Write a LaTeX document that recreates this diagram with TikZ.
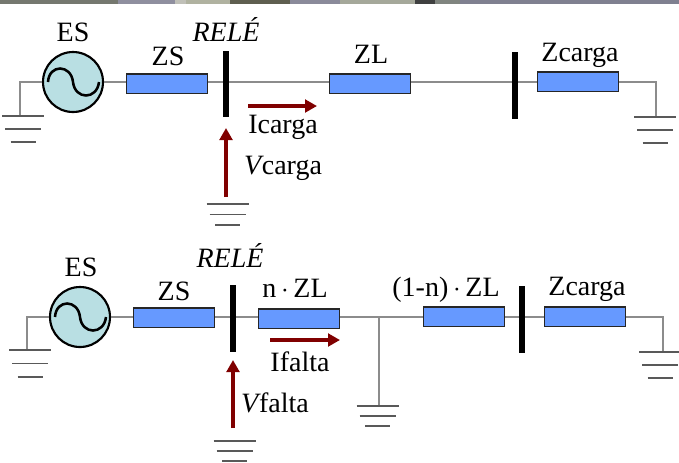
\documentclass[tikz,border=0pt]{standalone}
\usepackage{fontspec}
\setmainfont{Liberation Serif}
\usepackage{tikz}
\usetikzlibrary{arrows.meta}

\definecolor{wirecol}{HTML}{8C8C8C}
\definecolor{boxcol}{HTML}{6699FF}
\definecolor{gencol}{HTML}{B9DFE3}
\definecolor{arrowcol}{HTML}{800000}

\tikzset{
    wire/.style={draw=wirecol, line width=2.2pt},
    imped/.style={draw=black!85, fill=boxcol, line width=1pt, minimum width=61pt, minimum height=14.5pt, inner sep=0pt},
    gen/.style={circle, draw=black, fill=gencol, line width=1.6pt, minimum size=45pt, inner sep=0pt},
    wave/.style={draw=black, line width=1.9pt},
    bar/.style={fill=black, minimum width=4.5pt, minimum height=50pt, inner sep=0pt},
    earthline/.style={draw=black!65, line width=.9pt},
    measure/.style={draw=arrowcol, line width=3pt, -{Triangle[length=9pt, width=9.5pt]}},
    lbl/.style={anchor=base, inner sep=0pt, font=\fontsize{21}{23}\selectfont},
}

\begin{document}
\begin{tikzpicture}[x=.75pt, y=-.75pt]
    \useasboundingbox (0,0) rectangle (679,462);

    % strip left over at the top
    \foreach \a/\b/\c in {0/118/75786F, 118/175/8F8F9F, 175/186/C0C0B8, 186/230/B0B2A0, 230/290/5F5F50, 290/340/8A8A9A, 340/415/A5A89A, 415/435/3F4040, 435/460/80857F, 460/679/7F8090} {
        \definecolor{stripcol}{HTML}{\c}
        \fill[stripcol] (\a,0) rectangle (\b,3.5);
    }

    % first circuit
    \node[gen] (es1) at (73,82) {};
    \draw[wave] (48,82) .. controls (49,64) and (71,64) .. (73,82) .. controls (75,100) and (97,100) .. (99,82);
    \node[imped] (zs1) at (167,83.5) {};
    \node[imped] (zl1) at (370,83.5) {};
    \node[imped] (zc1) at (578,81.5) {};
    \coordinate (g1) at (20,116);
    \coordinate (g2) at (656,117);
    \coordinate (v1) at (226,197);
    \coordinate (v1top) at (226,128);
    \coordinate (i1a) at (248,106);
    \coordinate (i1b) at (317,106);

    \draw[wire] (es1.west) -| (g1);
    \draw[wire] (es1.east) -- (zs1.west |- es1);
    \draw[wire] (zs1.east |- es1) -- (zl1.west |- es1);
    \draw[wire] (zl1.east |- es1) -- (zc1.west |- es1);
    \draw[wire] (zc1.east |- es1) -| (g2);
    \node[bar] (rele1) at (226,84) {};
    \node[bar] (bus1) at (515,85.5) {};
    \draw[measure] (i1a) -- (i1b);
    \draw[measure] (v1) -- (v1top);

    \node[lbl] (es1t) at (73,41) {ES};
    \node[lbl] (zs1t) at (168,65) {ZS};
    \node[lbl] (rele1t) at (226,41) {\textit{RELÉ}};
    \node[lbl] (zl1t) at (371,63) {ZL};
    \node[lbl] (zc1t) at (580,61) {Zcarga};
    \node[lbl] (i1t) at (283,133) {Icarga};
    \node[lbl] (v1t) at (283,174) {\textit{V}\kern-1.5pt carga};

    % second circuit
    \node[gen] (es2) at (80,317) {};
    \draw[wave] (55,317) .. controls (56,299) and (78,299) .. (80,317) .. controls (82,335) and (104,335) .. (106,317);
    \node[imped] (zs2) at (174,317.5) {};
    \node[imped] (zn) at (299,318.5) {};
    \node[imped] (zm) at (464,316.5) {};
    \node[imped] (zc2) at (585,316.5) {};
    \coordinate (falta) at (379,317);
    \coordinate (g4) at (27,350);
    \coordinate (g5) at (379,406);
    \coordinate (g6) at (663,352);
    \coordinate (v2) at (233,428);
    \coordinate (v2top) at (233,360);
    \coordinate (i2a) at (270,340);
    \coordinate (i2b) at (340,340);

    \draw[wire] (es2.west) -| (g4);
    \draw[wire] (es2.east) -- (zs2.west |- es2);
    \draw[wire] (zs2.east |- es2) -- (zn.west |- es2);
    \draw[wire] (zn.east |- es2) -- (zm.west |- es2);
    \draw[wire] (falta) -- (g5);
    \draw[wire] (zm.east |- es2) -- (zc2.west |- es2);
    \draw[wire] (zc2.east |- es2) -| (g6);
    \node[bar] (rele2) at (233,318.5) {};
    \node[bar] (bus2) at (522,319.5) {};
    \draw[measure] (i2a) -- (i2b);
    \draw[measure] (v2) -- (v2top);

    \node[lbl] (es2t) at (81,276) {ES};
    \node[lbl] (zs2t) at (174,300) {ZS};
    \node[lbl] (rele2t) at (230,267) {\textit{RELÉ}};
    \node[lbl] (znt) at (295,297) {n\,$\cdot$\,ZL};
    \node[lbl] (zmt) at (446,296) {(1-n)\,$\cdot$\,ZL};
    \node[lbl] (zc2t) at (587,295) {Zcarga};
    \node[lbl] (i2t) at (300,371) {Ifalta};
    \node[lbl] (v2t) at (275,412) {\textit{V}\kern-1.5pt falta};

    % earth symbols
    \foreach \x/\y/\g in {23/116/13, 655/117/13, 227.5/204/10.5, 30/350/13.5, 377.5/406/10, 660/352/13, 234.5/441/10} {
        \draw[earthline] (\x-21,\y) -- (\x+21,\y);
        \draw[earthline] (\x-18,\y+\g) -- (\x+18,\y+\g);
        \draw[earthline] (\x-12.5,\y+2*\g) -- (\x+12.5,\y+2*\g);
    }
\end{tikzpicture}
\end{document}
